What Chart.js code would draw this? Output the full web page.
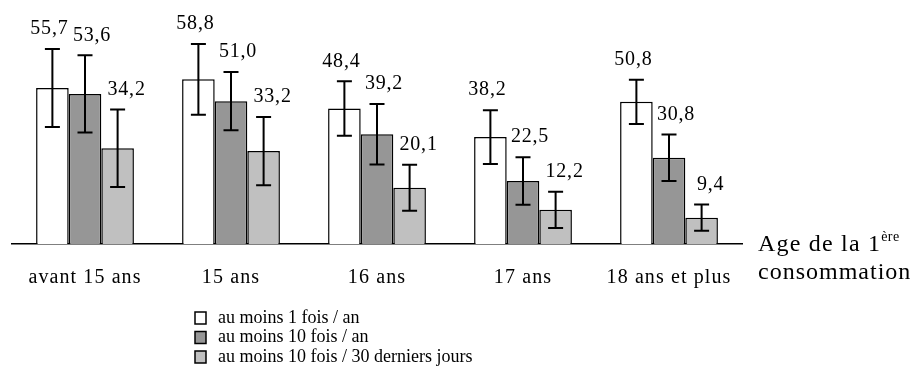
<!DOCTYPE html>
<html lang="fr">
<head>
    <meta charset="UTF-8">
    <title>Age de la 1ère consommation</title>
    <script src="https://cdn.jsdelivr.net/npm/chart.js"></script>
    <style>
        body { margin: 0; padding: 0; background: #ffffff; }
        .wrap { width: 920px; height: 367px; }
    </style>
</head>
<body>
    <div class="wrap"><canvas id="ageChart" width="920" height="367"></canvas></div>

    <script>
        const categories = ["avant 15 ans", "15 ans", "16 ans", "17 ans", "18 ans et plus"];
        const seriesNames = ["au moins 1 fois / an", "au moins 10 fois / an", "au moins 10 fois / 30 derniers jours"];

        const unParAn = [55.7, 58.8, 48.4, 38.2, 50.8];
        const dixParAn = [53.6, 51.0, 39.2, 22.5, 30.8];
        const dixTrenteJours = [34.2, 33.2, 20.1, 12.2, 9.4];

        // demi-largeur des intervalles de confiance
        const errUnParAn = [13.9, 12.6, 9.7, 9.6, 7.9];
        const errDixParAn = [13.8, 10.4, 10.8, 8.5, 8.3];
        const errDixTrente = [13.8, 12.2, 8.2, 6.5, 4.7];

        const serif = "'Liberation Serif', 'DejaVu Serif', serif";
        const fillColors = ['#ffffff', '#969696', '#c0c0c0'];
        const labelShift = [-3, 7, 9];

        const fmt = v => v.toFixed(1).replace('.', ',');

        // espacement des lettres pour les étiquettes de l'axe
        const spacing = {
            id: 'spacing',
            beforeDraw(chart) {
                chart.ctx.letterSpacing = '1.1px';
            }
        };

        // barres d'erreur + valeurs
        const errorBars = {
            id: 'errorBars',
            afterDatasetsDraw(chart) {
                const ctx = chart.ctx;
                const y = chart.scales.y;
                ctx.save();
                chart.data.datasets.forEach((ds, i) => {
                    const meta = chart.getDatasetMeta(i);
                    meta.data.forEach((bar, j) => {
                        const v = ds.data[j];
                        const e = ds.errors[j];
                        const top = y.getPixelForValue(v + e);
                        const bot = y.getPixelForValue(v - e);
                        ctx.strokeStyle = '#000';
                        ctx.lineWidth = 2;
                        ctx.beginPath();
                        ctx.moveTo(bar.x, top); ctx.lineTo(bar.x, bot);
                        ctx.moveTo(bar.x - 7.5, top); ctx.lineTo(bar.x + 7.5, top);
                        ctx.moveTo(bar.x - 7.5, bot); ctx.lineTo(bar.x + 7.5, bot);
                        ctx.stroke();

                        ctx.fillStyle = '#000';
                        ctx.letterSpacing = '0.8px';
                        ctx.font = '20px ' + serif;
                        ctx.textAlign = 'center';
                        ctx.textBaseline = 'middle';
                        ctx.fillText(fmt(v), bar.x + labelShift[i], top - 20);
                    });
                });
                ctx.restore();
            }
        };

        // titre de l'axe + légende
        const extras = {
            id: 'extras',
            afterDraw(chart) {
                const ctx = chart.ctx;
                ctx.save();
                ctx.fillStyle = '#000';
                ctx.textAlign = 'left';
                ctx.textBaseline = 'alphabetic';
                ctx.letterSpacing = '1.2px';
                ctx.font = '24px ' + serif;
                ctx.fillText('Age de la 1', 758, 251);
                const w = ctx.measureText('Age de la 1').width;
                ctx.letterSpacing = '0.5px';
                ctx.font = '14px ' + serif;
                ctx.fillText('ère', 758 + w, 241);
                ctx.letterSpacing = '1px';
                ctx.font = '24px ' + serif;
                ctx.fillText('consommation', 758, 279);

                ctx.letterSpacing = '0px';
                ctx.font = '18px ' + serif;
                ctx.textBaseline = 'middle';
                chart.data.datasets.forEach((ds, i) => {
                    const cy = 318 + i * 19.5;
                    ctx.fillStyle = ds.backgroundColor;
                    ctx.fillRect(195, cy - 6, 11, 12);
                    ctx.strokeStyle = '#000';
                    ctx.lineWidth = 1.5;
                    ctx.strokeRect(195, cy - 6, 11, 12);
                    ctx.fillStyle = '#000';
                    ctx.fillText(ds.label, 218, cy);
                });
                ctx.restore();
            }
        };

        const values = [unParAn, dixParAn, dixTrenteJours];
        const errors = [errUnParAn, errDixParAn, errDixTrente];

        new Chart(document.getElementById('ageChart'), {
            type: 'bar',
            data: {
                labels: categories,
                datasets: seriesNames.map((name, i) => ({
                    label: name,
                    data: values[i],
                    errors: errors[i],
                    backgroundColor: fillColors[i],
                    borderColor: '#000',
                    borderWidth: 1.5,
                    borderSkipped: 'bottom',
                    barPercentage: 1,
                    categoryPercentage: 0.67
                }))
            },
            options: {
                responsive: false,
                animation: false,
                layout: { padding: { left: 12, right: 178, top: 20, bottom: 55 } },
                plugins: {
                    legend: { display: false },
                    tooltip: { enabled: false }
                },
                scales: {
                    x: {
                        grid: { display: false, drawTicks: false },
                        border: { display: true, color: '#000', width: 1.5 },
                        ticks: {
                            color: '#000',
                            font: { family: serif, size: 20 },
                            padding: 22,
                            maxRotation: 0
                        }
                    },
                    y: {
                        display: false,
                        min: 0,
                        max: 80
                    }
                }
            },
            plugins: [spacing, errorBars, extras]
        });
    </script>
</body>
</html>
